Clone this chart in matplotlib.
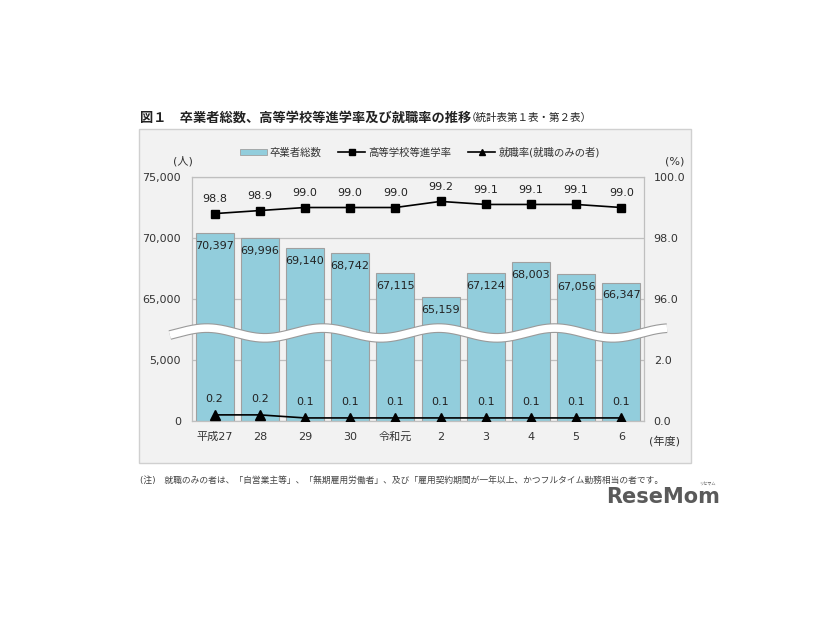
import numpy as np
import matplotlib
matplotlib.use("Agg")
import matplotlib.pyplot as plt
from matplotlib.patches import Rectangle, Patch
from matplotlib.lines import Line2D

plt.rcParams['font.family'] = ['DejaVu Sans', 'Noto Sans CJK JP']

years = ["平成27", "28", "29", "30", "令和元", "2", "3", "4", "5", "6"]
graduates = [70397, 69996, 69140, 68742, 67115, 65159, 67124, 68003, 67056, 66347]
advance_rate = [98.8, 98.9, 99.0, 99.0, 99.0, 99.2, 99.1, 99.1, 99.1, 99.0]
employ_rate = [0.2, 0.2, 0.1, 0.1, 0.1, 0.1, 0.1, 0.1, 0.1, 0.1]

left_ticks = [0, 5000, 65000, 70000, 75000]
right_ticks = [0.0, 2.0, 96.0, 98.0, 100.0]


# broken axis: 0-5000 -> 0-1, 60000-75000 -> 1-4
def fwd_l(v):
    return np.interp(v, [0, 5000, 60000, 1e6], [0, 1, 1.0001, (1e6 - 60000) / 5000 + 1])


def inv_l(u):
    return np.interp(u, [0, 1, 1.0001, (1e6 - 60000) / 5000 + 1], [0, 5000, 60000, 1e6])


# right: 0-2 -> 0-1, 94-100 -> 1-4
def fwd_r(p):
    return np.interp(p, [0, 2, 94, 200], [0, 1, 1.0001, (200 - 92) / 2])


def inv_r(u):
    return np.interp(u, [0, 1, 1.0001, (200 - 92) / 2], [0, 2, 94, 200])


bg = '#f2f2f2'
fig = plt.figure(figsize=(8.26, 6.2), dpi=100)
fig.patch.set_facecolor('white')
fig.patches.append(Rectangle((0.1683, 0.2532), 0.6683, 0.5387, transform=fig.transFigure,
                             fc=bg, ec='#d0d0d0', lw=1.0, zorder=-5))

ax = fig.add_axes([0.2324, 0.3210, 0.5472, 0.3935])
ax.set_facecolor(bg)
ax.set_yscale('function', functions=(fwd_l, inv_l))
ax.set_ylim(0, 75000)
x = np.arange(len(years))
ax.set_xlim(-0.5, len(years) - 0.5)

bars = ax.bar(x, graduates, width=0.84, color='#92cddc', edgecolor='#a0a0a0', lw=0.8, zorder=2)
for xi, v in zip(x, graduates):
    ax.annotate(f"{v:,}", (xi, v), xytext=(0, -5.5), textcoords='offset points',
                ha='center', va='top', fontsize=8, color='#222222', zorder=3)

ax.set_yticks(left_ticks)
ax.set_yticklabels([f"{t:,}" for t in left_ticks], fontsize=8, color='#333333')
ax.set_xticks(x)
ax.set_xticklabels(years, fontsize=8, color='#333333')
ax.tick_params(length=0, pad=8)
ax.tick_params(axis='y', pad=8)
ax.grid(axis='y', color='#bfbfbf', lw=0.9)
ax.set_axisbelow(True)
for s in ax.spines.values():
    s.set_color('#bfbfbf')
    s.set_linewidth(0.9)

ax2 = ax.twinx()
ax2.set_yscale('function', functions=(fwd_r, inv_r))
ax2.set_ylim(0, 100)
ax2.plot(x, advance_rate, color='black', lw=1.2, marker='s', ms=5.5, zorder=5)
ax2.plot(x, employ_rate, color='black', lw=1.2, marker='^', ms=6.5, zorder=5)
for xi, v in zip(x, advance_rate):
    ax2.annotate(f"{v:.1f}", (xi, v), xytext=(0, 7), textcoords='offset points',
                 ha='center', va='bottom', fontsize=8, color='#222222')
for xi, v in zip(x, employ_rate):
    ax2.annotate(f"{v:.1f}", (xi, v), xytext=(0, 8), textcoords='offset points',
                 ha='center', va='bottom', fontsize=8, color='#222222')
ax2.set_yticks(right_ticks)
ax2.set_yticklabels([f"{t:.1f}" for t in right_ticks], fontsize=8, color='#333333')
ax2.tick_params(length=0, pad=7)
for s in ax2.spines.values():
    s.set_visible(False)

# wavy break band
wx = np.linspace(-0.049, 1.051, 400)
per = 0.2566
wy = 0.3607 + 0.02 * np.sin(2 * np.pi * (wx - (0.033 - per / 4)) / per)
ax.plot(wx, wy, transform=ax.transAxes, color='#9a9a9a', lw=7.0, clip_on=False,
        solid_capstyle='butt', zorder=6)
ax.plot(wx, wy, transform=ax.transAxes, color='white', lw=5.4, clip_on=False,
        solid_capstyle='butt', zorder=7)

# legend
handles = [Patch(fc='#92cddc', ec='#a0a0a0', lw=0.6),
           Line2D([], [], color='black', lw=1.2, marker='s', ms=4.5),
           Line2D([], [], color='black', lw=1.2, marker='^', ms=5)]
fig.legend(handles, ["卒業者総数", "高等学校等進学率", "就職率(就職のみの者)"],
           loc='center', bbox_to_anchor=(0.508, 0.754), ncol=3, frameon=False,
           fontsize=7.5, handlelength=2.6, handleheight=0.6, columnspacing=1.6,
           handletextpad=0.3, labelcolor='#333333')

fig.text(183 / 826, 1 - 161 / 620, "(人)", ha='center', va='center', fontsize=8, color='#333333')
fig.text(675 / 826, 1 - 161 / 620, "(%)", ha='center', va='center', fontsize=8, color='#333333')
fig.text(665 / 826, 1 - 441 / 620, "(年度)", ha='center', va='center', fontsize=8, color='#333333')

fig.text(140 / 826, 1 - 118 / 620, "図１　卒業者総数、高等学校等進学率及び就職率の推移",
         ha='left', va='center', fontsize=9.5, fontweight='bold', family='Noto Sans CJK JP',
         color='#222222')
fig.text(466 / 826, 1 - 118 / 620, "（統計表第１表・第２表）",
         ha='left', va='center', fontsize=7.6, family='Noto Sans CJK JP', color='#222222')

fig.text(140 / 826, 1 - 480 / 620,
         "(注)　就職のみの者は、「自営業主等」、「無期雇用労働者」、及び「雇用契約期間が一年以上、かつフルタイム勤務相当の者です。",
         ha='left', va='center', fontsize=6.3, family=['DejaVu Sans', 'Noto Sans CJK JP'],
         color='#444444')
fig.text(720 / 826, 1 - 497 / 620, "ReseMom", ha='right', va='center', fontsize=15,
         fontweight='bold', color='#5a5a5a')
fig.text(716 / 826, 1 - 484 / 620, "リセマム", ha='right', va='center', fontsize=3,
         family='Noto Sans CJK JP', color='#5a5a5a')

fig.savefig("out.png", dpi=100)
